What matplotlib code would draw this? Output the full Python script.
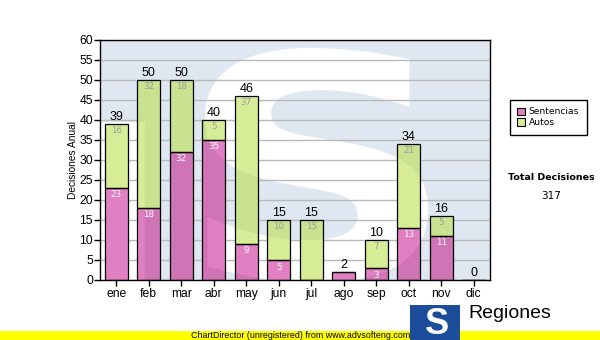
import matplotlib
matplotlib.use("Agg")
import matplotlib.pyplot as plt
import numpy as np
from matplotlib.textpath import TextPath
from matplotlib.font_manager import FontProperties
from matplotlib.patches import PathPatch, Rectangle, Patch
from matplotlib.path import Path
from matplotlib.transforms import Affine2D

# ---- data ----
months = ["ene", "feb", "mar", "abr", "may", "jun", "jul", "ago", "sep", "oct", "nov", "dic"]
sentencias = [23, 18, 32, 35, 9, 5, 0, 2, 3, 13, 11, 0]
autos = [16, 32, 18, 5, 37, 10, 15, 0, 7, 21, 5, 0]
y_ticks = list(range(0, 61, 5))
series_names = ["Sentencias", "Autos"]
total_title = "Total Decisiones"
y_title = "Decisiones Anual"

# ---- style ----
PINK_DARK = "#d074b6"
PINK_LIGHT = "#e07fc2"
GREEN_DARK = "#c9e290"
GREEN_LIGHT = "#d6ec96"
BG_BLUE = "#dfe8f1"
ARIAL = ["Liberation Sans", "DejaVu Sans"]
VERDANA = ["DejaVu Sans"]

W, H = 600, 340
fig = plt.figure(figsize=(W / 100, H / 100), dpi=100)
fig.patch.set_facecolor("white")
ax = fig.add_axes([100 / W, 1 - 280 / H, 390 / W, 240 / H])

x = np.arange(len(months))
totals = [s + a for s, a in zip(sentencias, autos)]

# ---- watermark: light blue field with a large white "S" ----
ax.set_facecolor(BG_BLUE)
tp = TextPath((0, 0), "S", size=1, prop=FontProperties(family="DejaVu Sans", weight="bold"))
ext = tp.get_extents()
sx0, sx1, sy0, sy1 = 0.269, 0.841, -0.01, 0.967
s_tr = (Affine2D().translate(-ext.x0, -ext.y0)
        .scale((sx1 - sx0) / ext.width, (sy1 - sy0) / ext.height)
        .translate(sx0, sy0))
s_path = s_tr.transform_path(tp)
corner = Path([(0, 0), (0.115, 0), (0.115, 0.658), (0, 0.658), (0, 0)],
              [Path.MOVETO, Path.LINETO, Path.LINETO, Path.LINETO, Path.CLOSEPOLY])
light_path = Path.make_compound_path(s_path, corner)
light_patch = PathPatch(light_path, transform=ax.transAxes, facecolor="white",
                        edgecolor="none", zorder=0.2)
ax.add_patch(light_patch)

# ---- grid ----
ax.set_axisbelow(True)
ax.yaxis.grid(True, color="#b9b9b9", linewidth=1.0)

# ---- stacked bars ----
bw = 0.7
b1 = ax.bar(x, sentencias, width=bw, color=PINK_DARK, edgecolor="none", zorder=2)
b2 = ax.bar(x, autos, width=bw, bottom=sentencias, color=GREEN_DARK, edgecolor="none", zorder=2)
for cont, col in ((b1, PINK_LIGHT), (b2, GREEN_LIGHT)):
    for r in cont:
        lr = Rectangle(r.get_xy(), r.get_width(), r.get_height(), facecolor=col,
                       edgecolor="none", zorder=2.1)
        ax.add_patch(lr)
        lr.set_clip_path(light_patch)
ax.bar(x, sentencias, width=bw, facecolor="none", edgecolor="black", linewidth=0.9, zorder=2.2)
ax.bar(x, autos, width=bw, bottom=sentencias, facecolor="none", edgecolor="black",
       linewidth=0.9, zorder=2.2)

# segment labels
for i in range(len(months)):
    if sentencias[i] >= 3:
        ax.annotate(str(sentencias[i]), (x[i], sentencias[i]), xytext=(0, -7),
                    textcoords="offset pixels", ha="center", va="center",
                    fontsize=6.3, color="white", family=VERDANA, zorder=3)
    if autos[i] >= 3:
        ax.annotate(str(autos[i]), (x[i], totals[i]), xytext=(0, -7),
                    textcoords="offset pixels", ha="center", va="center",
                    fontsize=6.3, color="#9c9c9c", family=VERDANA, zorder=3)
    ax.annotate(str(totals[i]), (x[i], totals[i]), xytext=(0, 1),
                textcoords="offset pixels", ha="center", va="bottom",
                fontsize=9, color="black", family=ARIAL, zorder=3)

# ---- axes ----
ax.set_xlim(-0.5, len(months) - 0.5)
ax.set_ylim(0, 60)
ax.set_yticks(y_ticks)
ax.set_yticklabels([str(v) for v in y_ticks], fontsize=8.7, family=ARIAL)
ax.set_xticks(x)
ax.set_xticklabels(months, fontsize=8.7, family=ARIAL)
ax.tick_params(axis="y", length=4, width=1, pad=1, color="black")
ax.tick_params(axis="x", length=4, width=1, pad=2, color="black")
for sp in ax.spines.values():
    sp.set_color("black")
    sp.set_linewidth(1.0)
    sp.set_zorder(4)
ax.set_ylabel(y_title, fontsize=7.3, family=ARIAL, labelpad=1)

# ---- legend ----
handles = [Patch(facecolor=PINK_LIGHT, edgecolor="black", linewidth=0.8),
           Patch(facecolor=GREEN_LIGHT, edgecolor="black", linewidth=0.8)]
leg = fig.legend(handles, series_names, loc="upper left",
                 bbox_to_anchor=(510 / W, 1 - 100 / H), fancybox=False,
                 edgecolor="black", framealpha=1, prop={"family": VERDANA, "size": 6.6},
                 handlelength=0.85, handleheight=0.85, handletextpad=0.4,
                 borderpad=0.8, labelspacing=0.2, borderaxespad=0)
leg.get_frame().set_linewidth(1.0)

# ---- total ----
fig.text(551 / W, 1 - 177 / H, total_title, ha="center", va="center",
         fontsize=6.8, fontweight="bold", family=VERDANA)
fig.text(551 / W, 1 - 196 / H, str(sum(totals)), ha="center", va="center",
         fontsize=7.5, family=VERDANA)

# ---- footer band ----
fig.patches.append(Rectangle((0, 0), 1, 9 / H, transform=fig.transFigure,
                             facecolor="#ffff00", edgecolor="none", zorder=1))
fig.text(301 / W, 1 - 335.5 / H, "ChartDirector (unregistered) from www.advsofteng.com",
         ha="center", va="center", fontsize=6.4, family=ARIAL, zorder=2)

# ---- logo ----
fig.patches.append(Rectangle((410 / W, 0), 50 / W, 35 / H, transform=fig.transFigure,
                             facecolor="#1c4d9b", edgecolor="none", zorder=3))
fig.text(437 / W, 1 - 324 / H, "S", ha="center", va="center", fontsize=26,
         fontweight="bold", color="white", family=ARIAL, zorder=4)
fig.text(468 / W, 1 - 313 / H, "Regiones", ha="left", va="center", fontsize=14,
         family=ARIAL, zorder=4)

fig.savefig("out.png", dpi=100, facecolor="white")
